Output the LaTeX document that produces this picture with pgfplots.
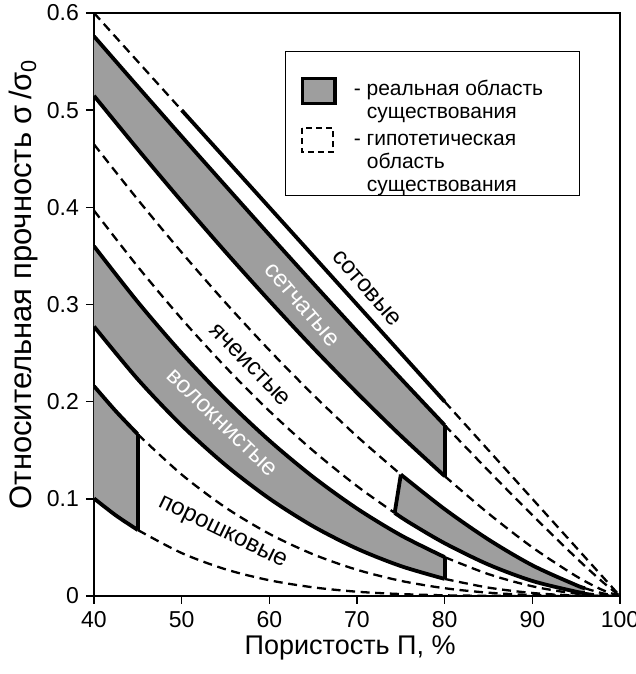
\documentclass[border=0pt]{standalone}
\usepackage{fontspec}
\setmainfont{Liberation Sans}
\usepackage{pgfplots}
\pgfplotsset{compat=1.18}
\usepgfplotslibrary{fillbetween}
\tikzset{
 real/.style={black, line width=1.9pt, smooth},
 hyp/.style={black, line width=1.15pt, dash pattern=on 4.5pt off 2.8pt, smooth},
 lab/.style={font=\fontsize{12}{14}\selectfont, inner sep=0pt},
}
\begin{document}
\begin{tikzpicture}
\begin{axis}[
 set layers,
 width=263pt, height=291.5pt, scale only axis,
 xmin=40, xmax=100, ymin=0, ymax=0.6,
 xtick={40,50,60,70,80,90,100}, ytick={0,0.1,0.2,0.3,0.4,0.5,0.6},
 tick align=outside, tick pos=left, major tick length=4pt,
 tick style={line width=0.8pt, black},
 axis line style={line width=1.3pt},
 /pgf/number format/assume math mode=true,
 ticklabel style={font=\fontsize{11.5}{13}\selectfont},
 xlabel={Пористость П, \%},
 ylabel={Относительная прочность σ\,/σ\textsubscript{0}},
 xlabel style={at={(axis description cs:0.487,-0.089)}, anchor=center, font=\fontsize{13.5}{15}\selectfont},
 ylabel style={at={(axis description cs:-0.135,0.535)}, anchor=center, font=\fontsize{15.5}{17}\selectfont},
]
% --- сотовые
\addplot[hyp] coordinates {(40,0.6)(50,0.5)};
\addplot[real] coordinates {(50,0.5)(80,0.2)};
\addplot[hyp] coordinates {(80,0.2)(100,0)};
% --- сетчатые
\addplot[real, name path=B] coordinates {(40,0.5760)(45,0.5243)(50,0.4730)(55,0.4222)(60,0.3717)(65,0.3218)(70,0.2725)(75,0.2238)(80,0.1758)};
\addplot[real, name path=C] coordinates {(40,0.5148)(45,0.4597)(50,0.4061)(55,0.3541)(60,0.3039)(65,0.2554)(70,0.2091)(75,0.1649)(80,0.1234)};
\addplot[black!38] fill between[of=B and C];
\addplot[real] coordinates {(80,0.1758)(80,0.1234)};
\addplot[hyp] coordinates {(80,0.1758)(85,0.1289)(90,0.0832)(95,0.0393)(98,0.0146)(100,0)};
\addplot[hyp] coordinates {(80,0.1234)(85,0.0849)(90,0.0501)(95,0.0204)(98,0.0062)(100,0)};
% --- ячеистые
\addplot[hyp] coordinates {(40,0.4648)(45,0.4079)(50,0.3536)(55,0.3019)(60,0.2530)(65,0.2071)(70,0.1643)(75,0.1250)};
\addplot[hyp] coordinates {(40,0.3967)(45,0.3389)(50,0.2852)(55,0.2357)(60,0.1904)(65,0.1495)(70,0.1131)(74.3,0.0855)};
\addplot[real, name path=D] coordinates {(75,0.1250)(80,0.0894)(85,0.0581)(90,0.0316)(95,0.0112)(96,0.0080)};
\addplot[real, name path=E] coordinates {(74.3,0.0855)(76,0.0754)(80,0.0543)(85,0.0323)(90,0.0155)(95,0.0044)(96,0.0030)};
\addplot[black!38] fill between[of=D and E];
\addplot[real] coordinates {(75,0.1250)(74.3,0.0855)};
\addplot[hyp] coordinates {(96,0.0080)(98,0.0028)(100,0)};
\addplot[hyp] coordinates {(96,0.0030)(98,0.0008)(100,0)};
% --- волокнистые
\addplot[real, name path=F] coordinates {(40,0.36)(45,0.3025)(50,0.25)(55,0.2025)(60,0.16)(65,0.1225)(70,0.09)(75,0.0625)(80,0.04)};
\addplot[real, name path=G] coordinates {(40,0.2774)(45,0.2230)(50,0.1756)(55,0.1348)(60,0.1003)(65,0.0717)(70,0.0487)(75,0.0308)(80,0.0176)};
\addplot[black!38] fill between[of=F and G];
\addplot[real] coordinates {(80,0.04)(80,0.0176)};
\addplot[hyp] coordinates {(80,0.04)(85,0.0225)(90,0.01)(95,0.0025)(100,0)};
\addplot[hyp] coordinates {(80,0.0176)(85,0.0086)(90,0.0031)(95,0.0005)(100,0)};
% --- порошковые
\addplot[real, name path=H] coordinates {(40,0.216)(42.5,0.1901)(45,0.1664)};
\addplot[real, name path=I] coordinates {(40,0.1004)(42.5,0.0829)(45,0.0679)};
\addplot[black!38] fill between[of=H and I];
\addplot[real] coordinates {(45,0.1664)(45,0.0679)};
\addplot[hyp] coordinates {(45,0.1664)(50,0.125)(55,0.0911)(60,0.064)(65,0.0429)(70,0.027)(75,0.0156)(80,0.008)(85,0.0034)(90,0.001)(95,0.0001)(100,0)};
\addplot[hyp] coordinates {(45,0.0679)(50,0.0442)(55,0.0275)(60,0.0162)(65,0.0089)(70,0.0044)(75,0.0020)(80,0.0007)(85,0.0002)(90,0.00003)(100,0)};
% --- labels
\node[lab, rotate=-49] at (axis cs:71.1,0.3166) {сотовые};
\node[lab, rotate=-49.5, text=white] at (axis cs:63.7,0.2994) {сетчатые};
\node[lab, rotate=-46] at (axis cs:57.8,0.2377) {ячеистые};
\node[lab, rotate=-44, text=white] at (axis cs:54.6,0.1777) {волокнистые};
\node[lab, rotate=-26] at (axis cs:54.6,0.0645) {порошковые};
\coordinate (L) at (axis cs:61.9,0.560);
\coordinate (O) at (rel axis cs:0,0);
\coordinate (T) at (rel axis cs:1,1);
\end{axis}
% legend
\draw[line width=0.5pt, fill=white] (L) rectangle ([shift={(147pt,-72pt)}]L);
\draw[fill=black!38, line width=1.6pt] ([shift={(8.3pt,-13.3pt)}]L) rectangle ([shift={(24.5pt,-25.8pt)}]L);
\draw[dash pattern=on 3pt off 2pt, line width=1.1pt] ([shift={(8pt,-38.2pt)}]L) rectangle ([shift={(23.5pt,-50.2pt)}]L);
\begin{scope}[every node/.style={anchor=base west, inner sep=0pt, font=\fontsize{10.5}{12}\selectfont}]
\node at ([shift={(33.7pt,-21.7pt)}]L) {- реальная область};
\node at ([shift={(40.3pt,-33.3pt)}]L) {существования};
\node at ([shift={(33.7pt,-46.7pt)}]L) {- гипотетическая};
\node at ([shift={(40.3pt,-58.3pt)}]L) {область};
\node at ([shift={(40.3pt,-70pt)}]L) {существования};
\end{scope}
\pgfresetboundingbox
\path[use as bounding box] ([shift={(-47pt,-39pt)}]O) rectangle ([shift={(8pt,6.5pt)}]T);
\end{tikzpicture}
\end{document}
